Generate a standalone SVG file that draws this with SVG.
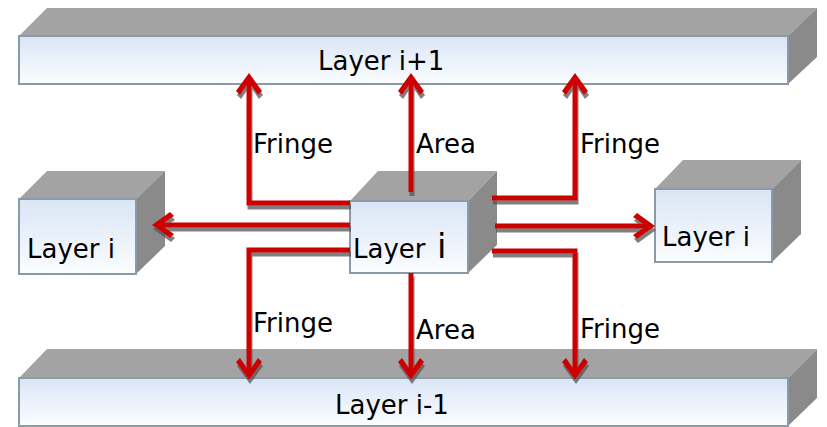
<svg xmlns="http://www.w3.org/2000/svg" width="827" height="427" viewBox="0 0 827 427">
<style>
.front{fill:url(#fg);stroke:#8c9aa8;stroke-width:2}
.top{fill:#a3a3a3}
.side{fill:#8a8a8a}
text{font-family:"DejaVu Sans","Verdana",sans-serif;font-size:26px;fill:#000}
.con{fill:none;stroke:#cc0000;stroke-width:5;marker-end:url(#ah)}
</style>
<defs>
<linearGradient id="fg" x1="0" y1="0" x2="0" y2="1">
<stop offset="0" stop-color="#d9e5f5"/>
<stop offset="1" stop-color="#fbfdff"/>
</linearGradient>
<marker id="ah" markerUnits="userSpaceOnUse" viewBox="-25 -15 40 30" markerWidth="40" markerHeight="30" refX="-8" refY="0" orient="auto" overflow="visible">
<polygon points="0,0 -18,-13 -22,-9 -9,0 -22,9 -18,13" fill="#cc0000"/>
</marker>
<filter id="sh" x="-10%" y="-10%" width="120%" height="130%">
<feDropShadow dx="1" dy="4" stdDeviation="0.6" flood-color="#555" flood-opacity="0.75"/>
</filter>
</defs>

<g id="layer-top">
<polygon class="top" points="19,36 47,8 817,8 788,36"/>
<polygon class="side" points="788,36 817,8 817,57 788,84"/>
<rect class="front" x="19" y="36" width="769" height="48"/>
<text x="318" y="70">Layer i+1</text>
</g>

<g id="layer-bottom">
<polygon class="top" points="19,378 47,349 817,349 788,378"/>
<polygon class="side" points="788,378 817,349 817,398 788,426"/>
<rect class="front" x="19" y="378" width="769" height="48"/>
<text x="335" y="414">Layer i-1</text>
</g>

<g id="layer-left">
<polygon class="top" points="19,199 47,171 165,171 136,199"/>
<polygon class="side" points="136,199 165,171 165,246 136,274"/>
<rect class="front" x="19" y="199" width="117" height="75"/>
<text x="27" y="258">Layer i</text>
</g>

<g id="layer-right">
<polygon class="top" points="655,189 683,160 801,160 772,189"/>
<polygon class="side" points="772,189 801,160 801,234 772,262"/>
<rect class="front" x="655" y="189" width="117" height="73"/>
<text x="662" y="246">Layer i</text>
</g>

<g id="layer-center">
<polygon class="top" points="350,201 378,171 497,171 468,201"/>
<polygon class="side" points="468,201 497,171 497,245 468,273"/>
<rect class="front" x="350" y="201" width="118" height="72"/>
<text x="353" y="258">Layer <tspan x="437" font-size="34">i</tspan></text>
</g>

<g id="connectors" filter="url(#sh)">
<path class="con" d="M350,203 H249 V81"/>
<path class="con" d="M411,192 V81"/>
<path class="con" d="M492,198 H575 V81"/>
<path class="con" d="M350,225 H160"/>
<path class="con" d="M495,226 H647"/>
<path class="con" d="M350,250 H249 V372"/>
<path class="con" d="M411,273 V372"/>
<path class="con" d="M492,251 H575 V372"/>
</g>

<g id="labels">
<text x="253" y="153">Fringe</text>
<text x="416" y="153">Area</text>
<text x="580" y="153">Fringe</text>
<text x="253" y="332">Fringe</text>
<text x="416" y="339">Area</text>
<text x="580" y="338">Fringe</text>
</g>
</svg>
